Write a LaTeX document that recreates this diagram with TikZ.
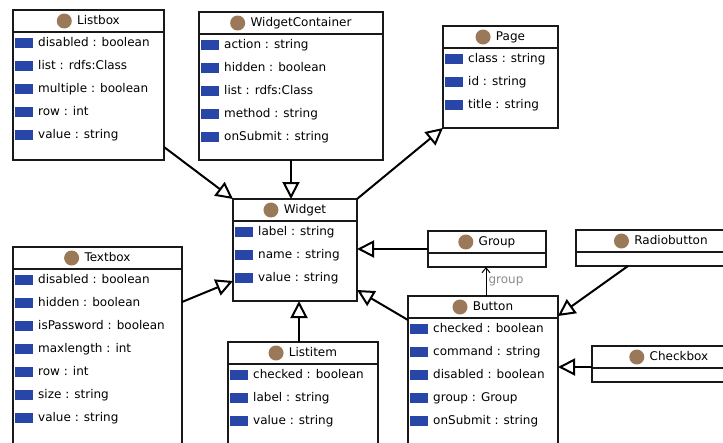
\documentclass[tikz,border=0pt]{standalone}
\usepackage{fontspec}
\setmainfont{DejaVu Sans}
\usetikzlibrary{arrows.meta,positioning}
\definecolor{ibrown}{RGB}{155,120,88}
\definecolor{iblue}{RGB}{40,70,168}
\definecolor{bord}{RGB}{25,25,25}
\definecolor{lblgray}{RGB}{140,140,140}
\tikzset{
  classbox/.style={draw=bord, line width=1.2pt, anchor=north west, inner sep=0pt, outer sep=0pt, fill=white},
  sepline/.style={draw=bord, line width=1.2pt},
  ttl/.style={font=\fontsize{12}{14}\selectfont, inner sep=0pt, text height=9pt, text depth=3pt},
  attr/.style={font=\fontsize{12}{14}\selectfont, anchor=west, inner sep=0pt, text height=9pt, text depth=3pt},
  battr/.style={fill=iblue, minimum width=18pt, minimum height=10pt, inner sep=0pt, anchor=west},
  ic/.style={circle, fill=ibrown, minimum size=15pt, inner sep=0pt},
  gen/.style={line width=2pt, -{Triangle[open, length=17pt, width=17pt]}},
  assoc/.style={line width=1pt, -{Straight Barb[length=5pt, width=8pt]}},
  albl/.style={font=\fontsize{12}{14}\selectfont, text=lblgray, inner sep=0pt, anchor=west}
}
\newcommand\umlcls[6]{%
  \node[classbox, minimum width=#4pt, minimum height=#5pt] (#1) at (#2,#3) {};
  \draw[sepline] ([yshift=-22pt]#1.north west) -- ([yshift=-22pt]#1.north east);
  \node[ttl] (#1-t) at ([xshift=10pt,yshift=-11pt]#1.north) {#6};
  \node[ic, left=5pt of #1-t] (#1-i) {};
}
\newcommand\umlrows[2]{%
  \foreach \t [count=\i] in {#2} {%
    \node[battr] (#1-b\i) at ([xshift=2pt, yshift={-10-23*\i}]#1.north west) {};
    \node[attr] (#1-a\i) at ([xshift=25pt, yshift={-10-23*\i}]#1.north west) {\t};
  }%
}
\begin{document}
\begin{tikzpicture}[x=1pt,y=-1pt]
\fill[white] (0,0) rectangle (723,442);
\clip (0,0) rectangle (723,442);

\umlcls{listbox}{13}{10}{151}{150}{Listbox}
\umlrows{listbox}{disabled : boolean, list : rdfs:Class, multiple : boolean, row : int, value : string}

\umlcls{wc}{199}{12}{184}{148}{WidgetContainer}
\umlrows{wc}{action : string, hidden : boolean, list : rdfs:Class, method : string, onSubmit : string}

\umlcls{page}{443}{26}{115}{102}{Page}
\umlrows{page}{class : string, id : string, title : string}

\umlcls{widget}{233}{199}{124}{102}{Widget}
\umlrows{widget}{label : string, name : string, value : string}

\umlcls{textbox}{13}{247}{169}{200}{Textbox}
\umlrows{textbox}{disabled : boolean, hidden : boolean, isPassword : boolean, maxlength : int, row : int, size : string, value : string}

\umlcls{group}{428}{231}{118}{36}{Group}

\umlcls{radio}{576}{230}{170}{36}{Radiobutton}

\umlcls{button}{408}{296}{150}{160}{Button}
\umlrows{button}{checked : boolean, command : string, disabled : boolean, group : Group, onSubmit : string}

\umlcls{checkbox}{592}{346}{154}{36}{Checkbox}

\umlcls{listitem}{228}{342}{150}{110}{Listitem}
\umlrows{listitem}{checked : boolean, label : string, value : string}

% generalisations
\draw[gen] ([yshift=13pt]listbox.south east) -- (widget.north west);
\draw[gen] (wc.south) -- (wc.south |- widget.north);
\draw[gen] (widget.north east) -- (page.south west);
\draw[gen] ([yshift=-55pt]textbox.north east) -- ([yshift=20pt]widget.south west);
\draw[gen] (group.west) -- (group.west -| widget.east);
\draw[gen] ([yshift=-24pt]button.north west) -- ([yshift=11pt]widget.south east);
\draw[gen] ([xshift=4pt]widget.south |- listitem.north) -- ([xshift=4pt]widget.south);
\draw[gen] ([xshift=52pt]radio.south west) -- ([yshift=-20pt]button.north east);
\draw[gen] ([yshift=-21pt]checkbox.north west) -- ([yshift=-21pt]checkbox.north west -| button.east);

% association
\draw[assoc] ([xshift=3pt]button.north) -- ([xshift=3pt]button.north |- group.south)
  node[albl, pos=0.5, xshift=2pt] (glbl) {group};
\end{tikzpicture}
\end{document}
